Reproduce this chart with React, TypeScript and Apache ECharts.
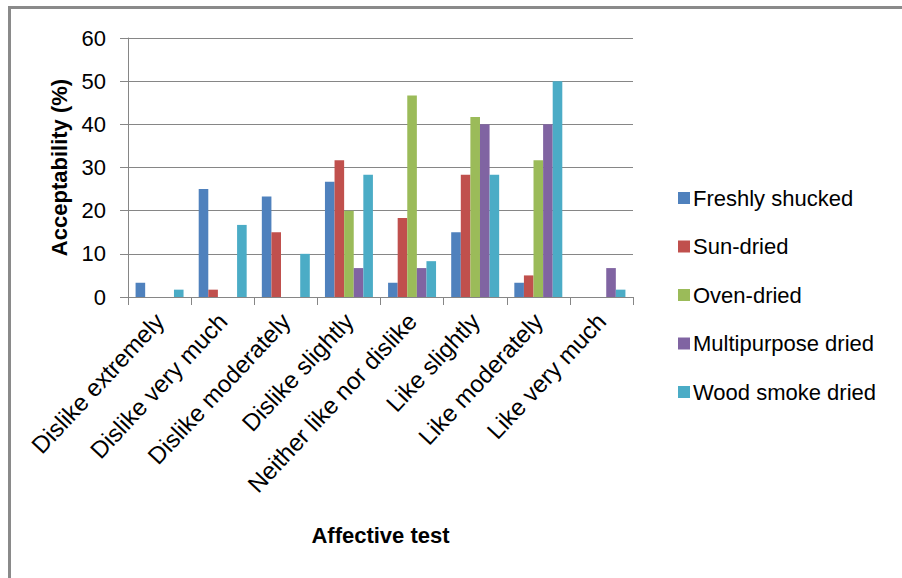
import React, { useEffect, useRef } from "react";
import * as echarts from "echarts";

const categories = [
  "Dislike extremely",
  "Dislike very much",
  "Dislike moderately",
  "Dislike slightly",
  "Neither like nor dislike",
  "Like slightly",
  "Like moderately",
  "Like very much",
];

const seriesNames = [
  "Freshly shucked",
  "Sun-dried",
  "Oven-dried",
  "Multipurpose dried",
  "Wood smoke dried",
];

const freshlyShucked = [3.3, 25, 23.3, 26.7, 3.3, 15, 3.3, 0];
const sunDried = [0, 1.7, 15, 31.7, 18.3, 28.3, 5, 0];
const ovenDried = [0, 0, 0, 20, 46.7, 41.7, 31.7, 0];
const multipurposeDried = [0, 0, 0, 6.7, 6.7, 40, 40, 6.7];
const woodSmokeDried = [1.7, 16.7, 10, 28.3, 8.3, 28.3, 50, 1.7];

const seriesValues = [freshlyShucked, sunDried, ovenDried, multipurposeDried, woodSmokeDried];
const colors = ["#4F81BD", "#C0504D", "#9BBB59", "#8064A2", "#4BACC6"];

const yTicks = { min: 0, max: 60, interval: 10 };

export default function App() {
  const ref = useRef<HTMLDivElement>(null);
  useEffect(() => {
    if (!ref.current) return;
    const chart = echarts.init(ref.current, null, { renderer: "svg" });
    const font = "'Liberation Sans', Arial, sans-serif";
    chart.setOption({
      animation: false,
      backgroundColor: "#ffffff",
      textStyle: { fontFamily: font },
      color: colors,
      grid: { left: 128, right: 269, top: 38, bottom: 281, containLabel: false },
      legend: {
        orient: "vertical",
        left: 673,
        top: 182,
        itemWidth: 12,
        itemHeight: 12,
        itemGap: 26.5,
        icon: "rect",
        data: seriesNames,
        textStyle: { fontSize: 22, lineHeight: 22, color: "#000", fontFamily: font, padding: [0, 0, 0, -2] },
      },
      xAxis: {
        type: "category",
        data: categories,
        name: "Affective test",
        nameLocation: "middle",
        nameGap: 227,
        nameTextStyle: { fontSize: 22, fontWeight: "bold", color: "#000", fontFamily: font },
        axisLine: { show: true, lineStyle: { color: "#868686", width: 1 } },
        axisTick: { show: true, alignWithLabel: false, length: 8, lineStyle: { color: "#868686" } },
        axisLabel: { rotate: 47, fontSize: 24, color: "#000", margin: 20, interval: 0, fontFamily: font },
        splitLine: { show: false },
      },
      yAxis: {
        type: "value",
        min: yTicks.min,
        max: yTicks.max,
        interval: yTicks.interval,
        name: "Acceptability (%)",
        nameLocation: "middle",
        nameGap: 58,
        nameTextStyle: { fontSize: 22, fontWeight: "bold", color: "#000", fontFamily: font },
        axisLine: { show: true, lineStyle: { color: "#868686", width: 1 } },
        axisTick: { show: true, length: 8, lineStyle: { color: "#868686" } },
        axisLabel: { fontSize: 22, color: "#000", margin: 22, fontFamily: font },
        splitLine: { show: true, lineStyle: { color: "#868686", width: 1 } },
      },
      series: seriesNames.map((name, i) => ({
        name,
        type: "bar",
        data: seriesValues[i],
        barGap: "0%",
        barCategoryGap: "24%",
        itemStyle: { color: colors[i] },
      })),
      graphic: [
        {
          type: "rect",
          shape: { x: 9.5, y: 7.5, width: 1200, height: 1200 },
          style: { fill: "none", stroke: "#8a8a8a", lineWidth: 3 },
          silent: true,
        },
      ],
    });
    return () => chart.dispose();
  }, []);
  return (
    <div
      ref={ref}
      style={{ position: "fixed", left: 0, top: 0, width: 902, height: 578 }}
    />
  );
}
